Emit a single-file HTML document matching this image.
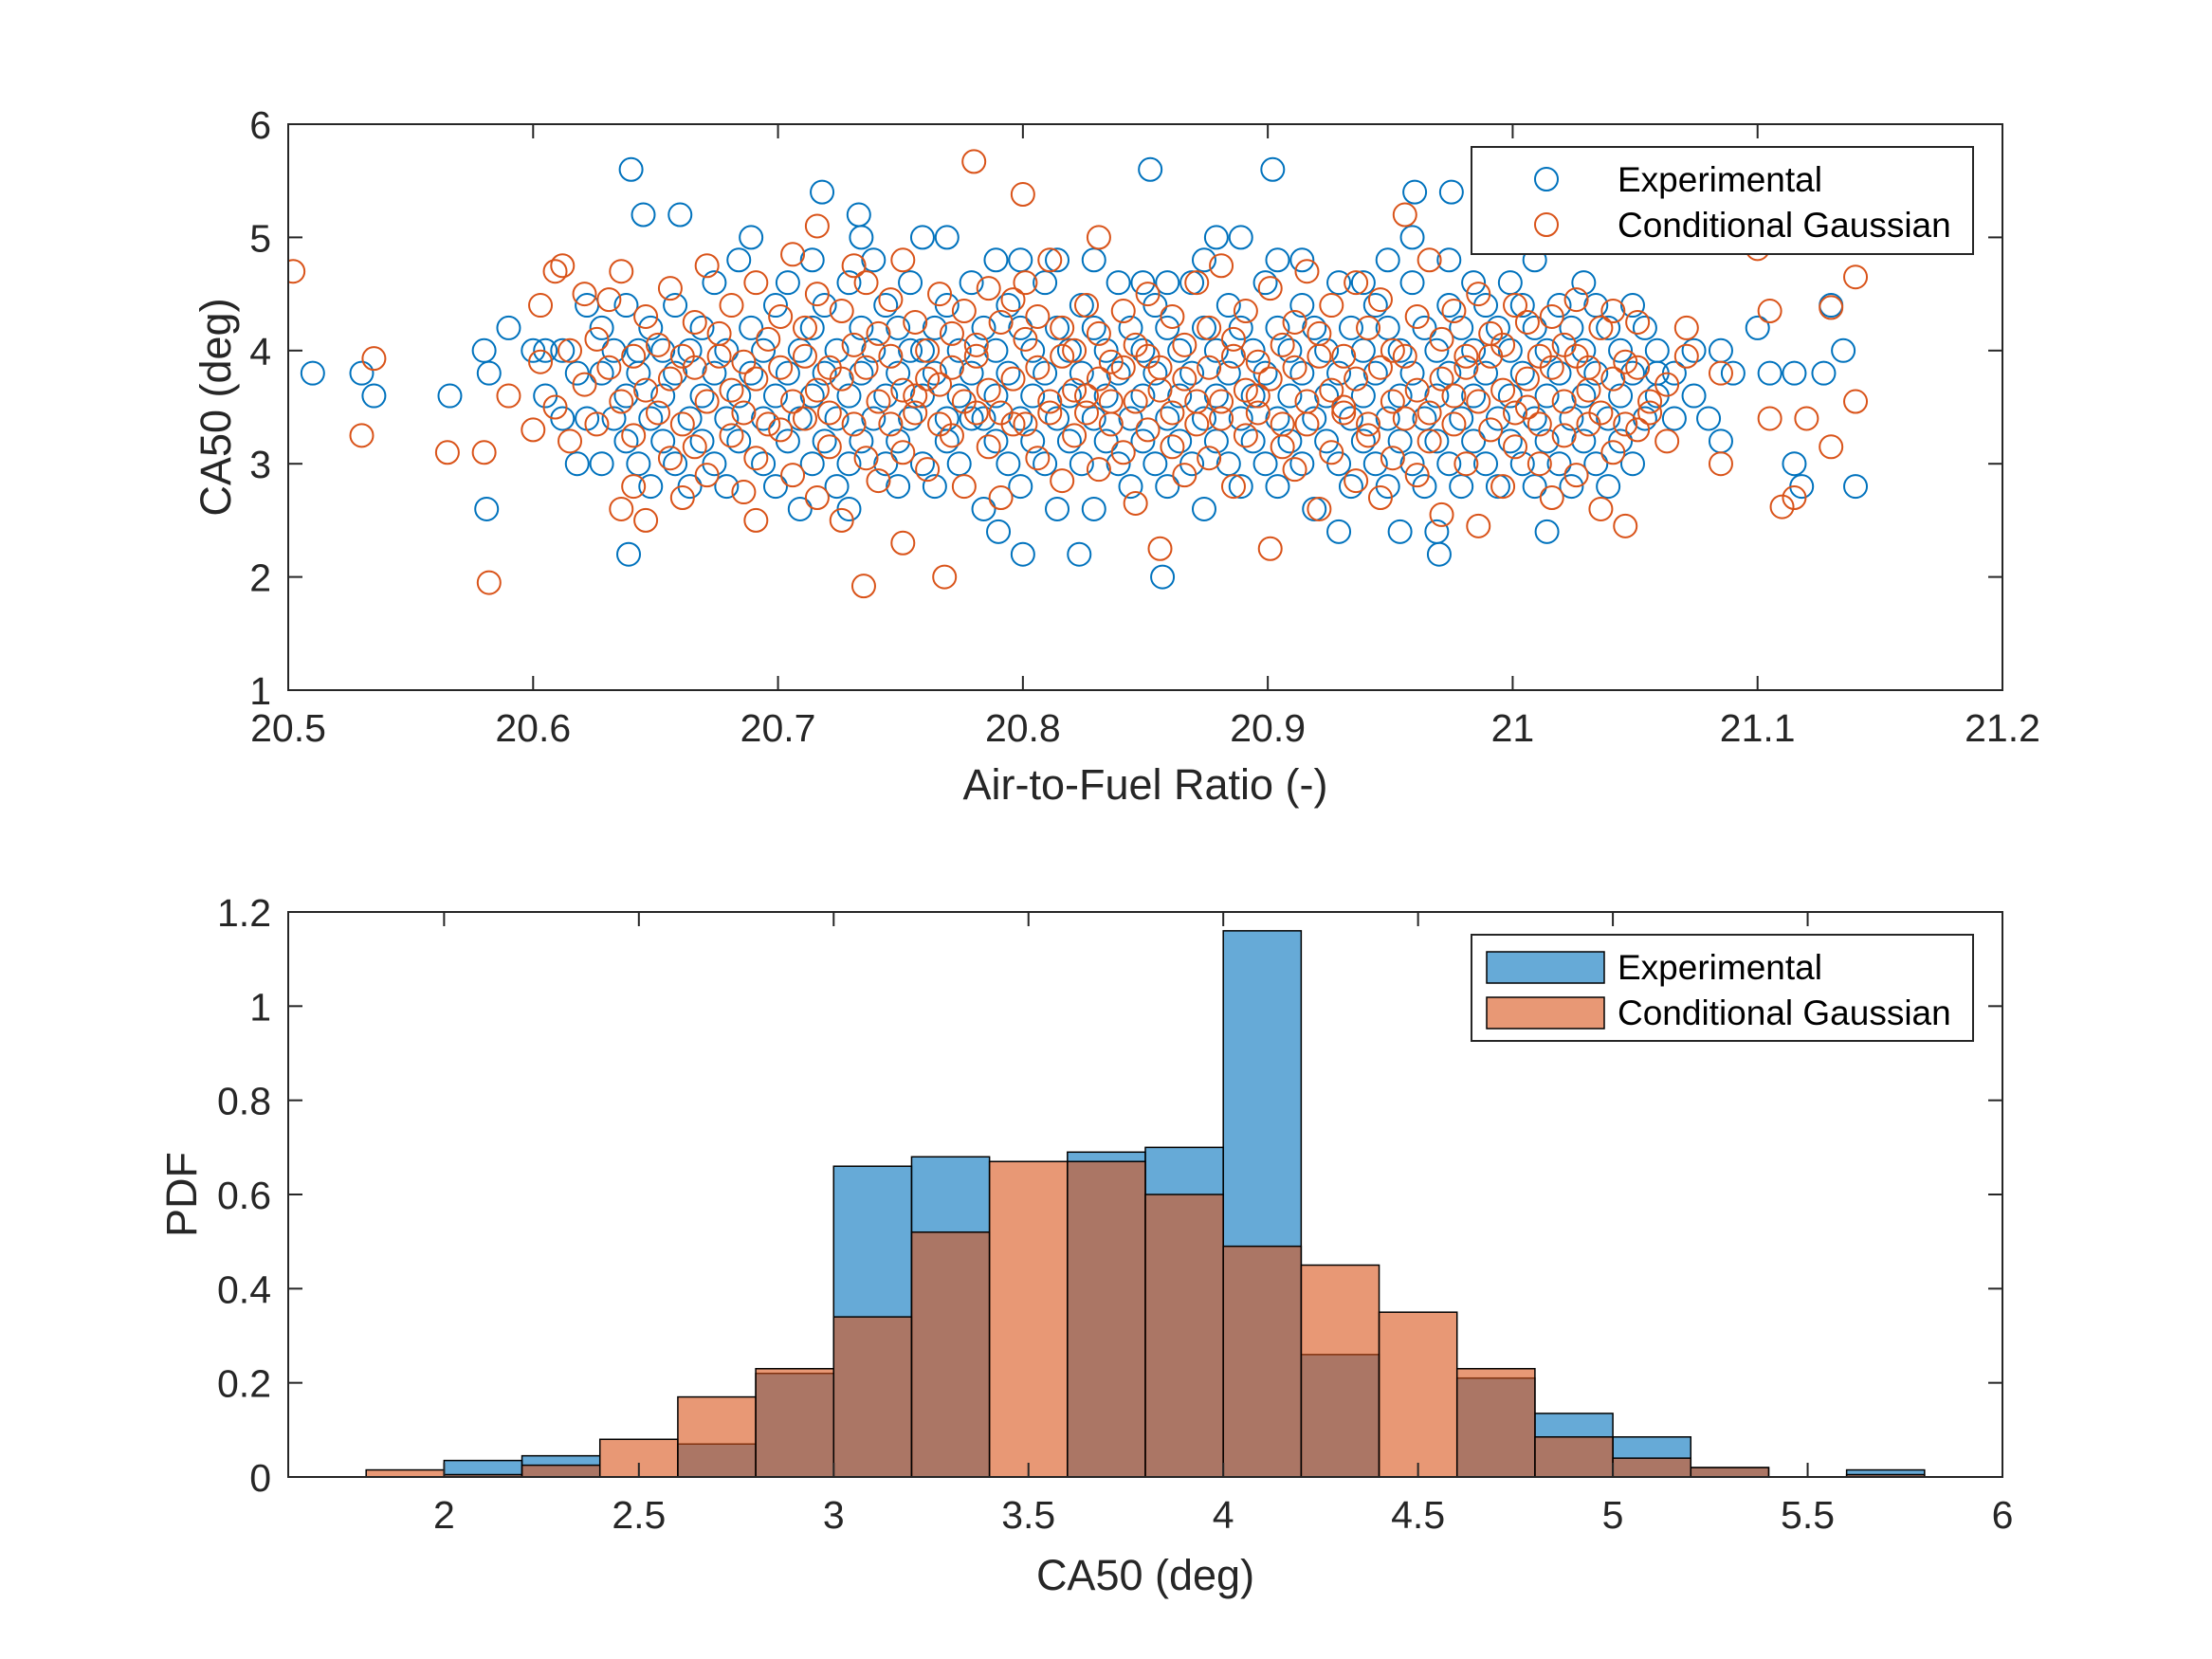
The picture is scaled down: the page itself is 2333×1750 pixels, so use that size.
<!DOCTYPE html>
<html><head><meta charset="utf-8"><style>
html,body{margin:0;padding:0;background:#fff}
svg{display:block;font-family:"Liberation Sans",Helvetica,Arial,sans-serif}
</style></head><body>
<svg id="fig" width="2333" height="1750" viewBox="0 0 2333 1750" xmlns="http://www.w3.org/2000/svg">
<rect width="2333" height="1750" fill="#fff"/>
<g id="topPlot"></g>
<g id="botPlot"></g>
</svg>
<script>
// ---- scatter data ----
const expOutliers = [[20.51,3.8],[20.53,3.8],[20.535,3.6],[20.566,3.6],[20.58,4.0],[20.582,3.8],[20.581,2.6],[20.59,4.2],[20.60,4.0],[20.64,5.6],[20.645,5.2],[20.66,5.2],[20.639,2.2],[20.718,5.4],[20.733,5.2],[20.852,5.6],[20.902,5.6],[20.857,2.0],[20.823,2.2],[20.80,2.2],[20.79,2.4],[20.96,5.4],[20.975,5.4],[21.14,2.8],[21.115,3.0],[21.118,2.8],[21.13,4.4],[21.135,4.0],[21.127,3.8],[21.115,3.8],[21.105,3.8],[21.10,4.2],[21.085,4.0],[21.085,3.2],[20.97,2.2],[21.08,3.4],[21.09,3.8]];
const expCols = [[20.605,[4.0,3.6]],[20.612,[3.4,4.0]],[20.618,[3.8,3.0]],[20.622,[4.4,3.4]],[20.628,[3.0,3.8,4.2]],[20.633,[3.4,4.0]],[20.638,[3.6,4.4,3.2]],[20.643,[3.0,3.8,4.0]],[20.648,[2.8,3.4,4.2]],[20.653,[3.6,4.0,3.2]],[20.658,[3.8,4.4,3.0]],[20.664,[3.4,4.0,2.8]],[20.669,[3.6,4.2,3.2]],[20.674,[3.8,4.6,3.0]],[20.679,[3.4,4.0,2.8]],[20.684,[3.6,4.8,3.2]],[20.689,[3.8,4.2,5.0]],[20.694,[3.4,4.0,3.0]],[20.699,[3.6,4.4,2.8]],[20.704,[3.8,4.6,3.2]],[20.709,[3.4,4.0,2.6]],[20.714,[3.6,4.2,3.0,4.8]],[20.719,[3.8,4.4,3.2]],[20.724,[3.4,4.0,2.8]],[20.729,[3.6,4.6,3.0,2.6]],[20.734,[3.8,4.2,3.2,5.0]],[20.739,[3.4,4.0,4.8]],[20.744,[3.6,4.4,3.0]],[20.749,[3.8,4.2,3.2,2.8]],[20.754,[3.4,4.6,4.0]],[20.759,[3.6,4.0,5.0,3.0]],[20.764,[3.8,4.2,2.8]],[20.769,[3.4,4.4,3.2,5.0]],[20.774,[3.6,4.0,3.0]],[20.779,[3.8,4.6,3.4]],[20.784,[3.4,4.2,2.6]],[20.789,[3.6,4.0,4.8,3.2]],[20.794,[3.8,4.4,3.0]],[20.799,[3.4,4.2,2.8,4.8]],[20.804,[3.6,4.0,3.2]],[20.809,[3.8,4.6,3.0]],[20.814,[3.4,4.2,2.6,4.8]],[20.819,[3.6,4.0,3.2]],[20.824,[3.8,4.4,3.0]],[20.829,[3.4,4.2,2.6,4.8]],[20.834,[3.6,4.0,3.2]],[20.839,[3.8,4.6,3.0]],[20.844,[3.4,4.2,2.8]],[20.849,[3.6,4.0,3.2,4.6]],[20.854,[3.8,4.4,3.0]],[20.859,[3.4,4.2,2.8,4.6]],[20.864,[3.6,4.0,3.2]],[20.869,[3.8,4.6,3.0]],[20.874,[3.4,4.2,2.6,4.8]],[20.879,[3.6,4.0,3.2,5.0]],[20.884,[3.8,4.4,3.0]],[20.889,[3.4,4.2,2.8,5.0]],[20.894,[3.6,4.0,3.2]],[20.899,[3.8,4.6,3.0]],[20.904,[3.4,4.2,2.8,4.8]],[20.909,[3.6,4.0,3.2]],[20.914,[3.8,4.4,3.0,4.8]],[20.919,[3.4,4.2,2.6]],[20.924,[3.6,4.0,3.2]],[20.929,[3.8,4.6,3.0,2.4]],[20.934,[3.4,4.2,2.8]],[20.939,[3.6,4.0,3.2,4.6]],[20.944,[3.8,4.4,3.0]],[20.949,[3.4,4.2,2.8,4.8]],[20.954,[3.6,4.0,3.2,2.4]],[20.959,[3.8,4.6,3.0,5.0]],[20.964,[3.4,4.2,2.8]],[20.969,[3.6,4.0,3.2,2.4]],[20.974,[3.8,4.4,3.0,4.8]],[20.979,[3.4,4.2,2.8]],[20.984,[3.6,4.0,3.2,4.6]],[20.989,[3.8,4.4,3.0]],[20.994,[3.4,4.2,2.8]],[20.999,[3.6,4.0,3.2,4.6]],[21.004,[3.8,4.4,3.0]],[21.009,[3.4,4.2,2.8,4.8]],[21.014,[3.6,4.0,3.2,2.4]],[21.019,[3.8,4.4,3.0]],[21.024,[3.4,4.2,2.8]],[21.029,[3.6,4.0,3.2,4.6]],[21.034,[3.8,4.4,3.0]],[21.039,[3.4,4.2,2.8]],[21.044,[3.6,4.0,3.2]],[21.049,[3.8,4.4,3.0]],[21.054,[3.4,4.2]],[21.059,[3.6,3.8,4.0]],[21.066,[3.4,3.8]],[21.074,[3.6,4.0]]];
const gaussOutliers = [[20.502,4.7],[20.53,3.25],[20.535,3.93],[20.565,3.1],[20.58,3.1],[20.582,1.95],[20.59,3.6],[20.60,3.3],[20.78,5.67],[20.80,5.38],[20.735,1.92],[20.768,2.0],[21.14,4.65],[21.14,3.55],[21.13,3.15],[21.12,3.4],[21.105,4.35],[21.105,3.4],[21.11,2.62],[21.115,2.7],[21.1,4.9],[21.13,4.38],[21.085,3.0],[21.085,3.8],[20.612,4.75]];
const gaussCols = [[20.603,[3.9,4.4]],[20.609,[3.5,4.7]],[20.615,[4.0,3.2]],[20.621,[3.7,4.5]],[20.626,[3.35,4.1]],[20.631,[3.85,4.45]],[20.636,[3.55,4.7,2.6]],[20.641,[3.95,3.25,2.8]],[20.646,[3.65,4.3,2.5]],[20.651,[3.45,4.05]],[20.656,[3.75,4.55,3.05]],[20.661,[3.35,3.95,2.7]],[20.666,[3.85,4.25,3.15]],[20.671,[3.55,4.75,2.9]],[20.676,[3.95,4.15]],[20.681,[3.65,4.4,3.25]],[20.686,[3.45,3.9,2.75]],[20.691,[3.75,4.6,3.05,2.5]],[20.696,[3.35,4.1]],[20.701,[3.85,4.3,3.3]],[20.706,[3.55,4.85,2.9]],[20.711,[3.95,4.2,3.4]],[20.716,[3.65,4.5,2.7,5.1]],[20.721,[3.45,3.85,3.15]],[20.726,[3.75,4.35,2.5]],[20.731,[3.35,4.05,4.75]],[20.736,[3.85,4.6,3.05]],[20.741,[3.55,4.15,2.85]],[20.746,[3.95,4.45,3.35]],[20.751,[3.65,4.8,3.1,2.3]],[20.756,[3.45,4.25,3.6]],[20.761,[3.75,4.0,2.95]],[20.766,[3.35,4.5,3.7]],[20.771,[3.85,4.15,3.25]],[20.776,[3.55,4.35,2.8]],[20.781,[3.95,4.05,3.45]],[20.786,[3.65,4.55,3.15]],[20.791,[3.45,4.25,2.7]],[20.796,[3.75,4.45,3.35]],[20.801,[3.35,4.1,4.6]],[20.806,[3.85,4.3,3.05]],[20.811,[3.55,4.8,3.45]],[20.816,[3.95,4.2,2.85]],[20.821,[3.65,4.0,3.25]],[20.826,[3.45,4.4,3.6]],[20.831,[3.75,4.15,2.95,5.0]],[20.836,[3.35,3.9,3.55]],[20.841,[3.85,4.35,3.1]],[20.846,[3.55,4.05,2.65]],[20.851,[3.95,4.5,3.3]],[20.856,[3.65,3.85,2.25]],[20.861,[3.45,4.3,3.15]],[20.866,[3.75,4.05,2.9]],[20.871,[3.35,4.6,3.55]],[20.876,[3.85,4.2,3.05]],[20.881,[3.55,4.75,3.4]],[20.886,[3.95,4.1,2.8]],[20.891,[3.65,4.35,3.25]],[20.896,[3.45,3.9,3.6]],[20.901,[3.75,4.55,2.25]],[20.906,[3.35,4.05,3.15]],[20.911,[3.85,4.25,2.95]],[20.916,[3.55,4.7,3.35]],[20.921,[3.95,4.15,2.6]],[20.926,[3.65,4.4,3.1]],[20.931,[3.45,3.95,3.5]],[20.936,[3.75,4.6,2.85]],[20.941,[3.35,4.2,3.25]],[20.946,[3.85,4.45,2.7]],[20.951,[3.55,4.0,3.05]],[20.956,[3.95,5.2,3.4]],[20.961,[3.65,4.3,2.9]],[20.966,[3.45,4.8,3.2]],[20.971,[3.75,4.1,2.55]],[20.976,[3.35,4.35,3.6]],[20.981,[3.85,3.95,3.0]],[20.986,[3.55,4.5,2.45]],[20.991,[3.95,4.15,3.3]],[20.996,[3.65,4.05,2.8]],[21.001,[3.45,4.4,3.15]],[21.006,[3.75,4.25,3.5]],[21.011,[3.35,3.95,3.0]],[21.016,[3.85,4.3,2.7]],[21.021,[3.55,4.05,3.25]],[21.026,[3.95,4.45,2.9]],[21.031,[3.65,3.85,3.35]],[21.036,[3.45,4.2,2.6]],[21.041,[3.75,4.35,3.1]],[21.046,[3.35,3.9,2.45]],[21.051,[3.85,4.25,3.3]],[21.056,[3.55,3.45]],[21.063,[3.7,3.2]],[21.071,[3.95,4.2]]];
const topXTicks = [20.5,20.6,20.7,20.8,20.9,21,21.1,21.2];
const topYTicks = [1,2,3,4,5,6];

// ---- histogram data ----
const binEdges = [1.8,2.0,2.2,2.4,2.6,2.8,3.0,3.2,3.4,3.6,3.8,4.0,4.2,4.4,4.6,4.8,5.0,5.2,5.4,5.6,5.8];
const expPdf   = [0,0.035,0.045,0,0.07,0.22,0.66,0.68,0,0.69,0.70,1.16,0.26,0,0.21,0.135,0.085,0.02,0,0.015];
const gaussPdf = [0.015,0.005,0.025,0.08,0.17,0.23,0.34,0.52,0.67,0.67,0.60,0.49,0.45,0.35,0.23,0.085,0.04,0.02,0,0.005];
const botXTicks = [2,2.5,3,3.5,4,4.5,5,5.5,6];
const botYTicks = [0,0.2,0.4,0.6,0.8,1,1.2];

const NS = "http://www.w3.org/2000/svg";
function mk(parent, tag, attrs){ const e=document.createElementNS(NS,tag); for(const k in attrs) e.setAttribute(k,attrs[k]); parent.appendChild(e); return e; }
const BLUE="#0072BD", ORANGE="#D95319", AX="#262626";
const TICKFS=41, LABFS=45, LEGFS=37;

// ---- top axes ----
const TA={l:304,r:2112,t:131,b:728,x0:20.5,x1:21.2,y0:1,y1:6};
const tx=v=>TA.l+(v-TA.x0)/(TA.x1-TA.x0)*(TA.r-TA.l);
const ty=v=>TA.b-(v-TA.y0)/(TA.y1-TA.y0)*(TA.b-TA.t);
const topG=document.getElementById('topPlot');
const clip=mk(topG,'clipPath',{id:'clipTop'}); mk(clip,'rect',{x:TA.l,y:TA.t,width:TA.r-TA.l,height:TA.b-TA.t});
const expG=mk(topG,'g',{'clip-path':'url(#clipTop)'});


const gG=mk(topG,'g',{'clip-path':'url(#clipTop)'});


function pt(g,x,y,c){ const e=mk(g,'circle',{cx:tx(x),cy:ty(y),r:12,fill:'none',stroke:c,'stroke-width':2});
 
  }
expOutliers.forEach(p=>pt(expG,p[0],p[1],BLUE));
expCols.forEach(c=>c[1].forEach(y=>pt(expG,c[0],y,BLUE)));
gaussOutliers.forEach(p=>pt(gG,p[0],p[1],ORANGE));
gaussCols.forEach(c=>c[1].forEach(y=>pt(gG,c[0],y,ORANGE)));

function axes(g,A,fx,fy,xt,yt){
 const box=mk(g,'rect',{x:A.l,y:A.t,width:A.r-A.l,height:A.b-A.t,fill:'none',stroke:AX,'stroke-width':2});
 
 
 xt.forEach(v=>{const x=fx(v);
  mk(g,'line',{x1:x,x2:x,y1:A.b,y2:A.b-15,stroke:AX,'stroke-width':2});
  mk(g,'line',{x1:x,x2:x,y1:A.t,y2:A.t+15,stroke:AX,'stroke-width':2});
  const t=mk(g,'text',{x:x,y:A.b+54,'text-anchor':'middle','font-size':TICKFS,fill:AX}); t.textContent=String(v);
  
  });
 yt.forEach(v=>{const y=fy(v);
  mk(g,'line',{x1:A.l,x2:A.l+15,y1:y,y2:y,stroke:AX,'stroke-width':2});
  mk(g,'line',{x1:A.r,x2:A.r-15,y1:y,y2:y,stroke:AX,'stroke-width':2});
  const t=mk(g,'text',{x:A.l-18,y:y+15,'text-anchor':'end','font-size':TICKFS,fill:AX}); t.textContent=String(v);
  
  });
}
axes(topG,TA,tx,ty,topXTicks,topYTicks);
let lab=mk(topG,'text',{x:(TA.l+TA.r)/2,y:843,'text-anchor':'middle','font-size':LABFS,fill:AX}); lab.textContent='Air-to-Fuel Ratio (-)';


lab=mk(topG,'text',{x:0,y:0,'text-anchor':'middle','font-size':LABFS,fill:AX,transform:`translate(243,${(TA.t+TA.b)/2}) rotate(-90)`}); lab.textContent='CA50 (deg)';


let lg=mk(topG,'g',{});


mk(lg,'rect',{x:1552,y:155,width:529,height:113,fill:'#fff',stroke:AX,'stroke-width':2});
[['Experimental',BLUE,189],['Conditional Gaussian',ORANGE,237]].forEach(d=>{
 const e=mk(lg,'g',{});
 
 
 mk(e,'circle',{cx:1631,cy:d[2],r:12,fill:'none',stroke:d[1],'stroke-width':2});
 const t=mk(e,'text',{x:1706,y:d[2]+13,'font-size':LEGFS,fill:'#000'}); t.textContent=d[0];});

// ---- bottom axes ----
const BA={l:304,r:2112,t:962,b:1558,x0:1.6,x1:6,y0:0,y1:1.2};
const bx=v=>BA.l+(v-BA.x0)/(BA.x1-BA.x0)*(BA.r-BA.l);
const by=v=>BA.b-(v-BA.y0)/(BA.y1-BA.y0)*(BA.b-BA.t);
const botG=document.getElementById('botPlot');
function bars(vals,color,name){
 const g=mk(botG,'g',{});
 
 
 vals.forEach((v,i)=>{const x0=bx(binEdges[i]),x1=bx(binEdges[i+1]);
  const r=mk(g,'rect',{x:x0,y:by(v),width:x1-x0,height:by(0)-by(v),fill:color,'fill-opacity':0.6,stroke:'#000','stroke-width':1.5});
  
  });
}
bars(expPdf,BLUE,'experimental-bars');
bars(gaussPdf,ORANGE,'conditional-gaussian-bars');
axes(botG,BA,bx,by,botXTicks,botYTicks);
lab=mk(botG,'text',{x:(BA.l+BA.r)/2,y:1677,'text-anchor':'middle','font-size':LABFS,fill:AX}); lab.textContent='CA50 (deg)';


lab=mk(botG,'text',{x:0,y:0,'text-anchor':'middle','font-size':LABFS,fill:AX,transform:`translate(207,${(BA.t+BA.b)/2}) rotate(-90)`}); lab.textContent='PDF';


lg=mk(botG,'g',{});


mk(lg,'rect',{x:1552,y:986,width:529,height:112,fill:'#fff',stroke:AX,'stroke-width':2});
[['Experimental',BLUE,1020],['Conditional Gaussian',ORANGE,1068]].forEach(d=>{
 const e=mk(lg,'g',{});
 
 
 mk(e,'rect',{x:1568,y:d[2]-16,width:124,height:33,fill:d[1],'fill-opacity':0.6,stroke:'#000','stroke-width':1.5});
 const t=mk(e,'text',{x:1706,y:d[2]+13,'font-size':LEGFS,fill:'#000'}); t.textContent=d[0];});
</script>
</body></html>
